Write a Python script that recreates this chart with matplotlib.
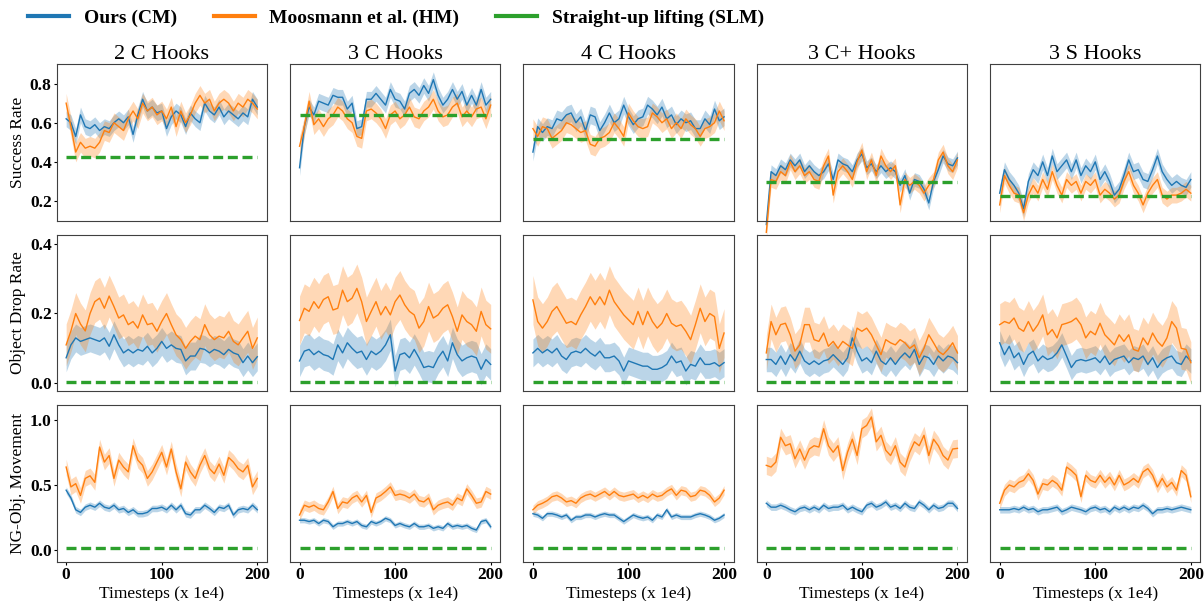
import numpy as np
import matplotlib
matplotlib.use("Agg")
import matplotlib.pyplot as plt
from matplotlib.lines import Line2D

plt.rcParams['font.family'] = ['Liberation Serif', 'DejaVu Serif']

tasks = ["2 C Hooks", "3 C Hooks", "4 C Hooks", "3 C+ Hooks", "3 S Hooks"]
metrics = ["Success Rate", "Object Drop Rate", "NG-Obj. Movement"]
labels = ["Ours (CM)", "Moosmann et al. (HM)", "Straight-up lifting (SLM)"]

# --- success rate (values every 5 timesteps, 0..200) ---
cm_sr_2c = [0.62, 0.60, 0.53, 0.64, 0.58, 0.57, 0.59, 0.56, 0.58, 0.57, 0.60, 0.62, 0.60, 0.63, 0.54, 0.64, 0.72, 0.66, 0.68, 0.65, 0.66,
            0.57, 0.63, 0.66, 0.64, 0.58, 0.65, 0.62, 0.60, 0.70, 0.66, 0.64, 0.68, 0.63, 0.66, 0.64, 0.62, 0.65, 0.63, 0.72, 0.68]
hm_sr_2c = [0.70, 0.58, 0.45, 0.50, 0.47, 0.48, 0.47, 0.50, 0.56, 0.55, 0.60, 0.58, 0.56, 0.62, 0.66, 0.62, 0.70, 0.66, 0.68, 0.64, 0.66,
            0.62, 0.68, 0.58, 0.66, 0.60, 0.64, 0.70, 0.74, 0.70, 0.72, 0.66, 0.70, 0.72, 0.70, 0.66, 0.70, 0.68, 0.72, 0.70, 0.67]
cm_sr_3c = [0.37, 0.58, 0.68, 0.64, 0.71, 0.70, 0.69, 0.74, 0.73, 0.73, 0.67, 0.70, 0.57, 0.58, 0.72, 0.72, 0.75, 0.72, 0.69, 0.77, 0.72,
            0.71, 0.67, 0.75, 0.77, 0.74, 0.79, 0.75, 0.82, 0.74, 0.69, 0.72, 0.77, 0.72, 0.76, 0.69, 0.74, 0.69, 0.77, 0.69, 0.72]
hm_sr_3c = [0.48, 0.58, 0.71, 0.59, 0.62, 0.58, 0.62, 0.64, 0.68, 0.66, 0.62, 0.60, 0.53, 0.52, 0.66, 0.67, 0.65, 0.62, 0.57, 0.64, 0.66,
            0.62, 0.64, 0.68, 0.63, 0.62, 0.66, 0.68, 0.72, 0.66, 0.63, 0.64, 0.68, 0.70, 0.63, 0.66, 0.63, 0.67, 0.68, 0.62, 0.69]
cm_sr_4c = [0.45, 0.58, 0.55, 0.58, 0.57, 0.62, 0.61, 0.64, 0.65, 0.60, 0.63, 0.56, 0.64, 0.63, 0.56, 0.60, 0.65, 0.60, 0.62, 0.69, 0.63,
            0.59, 0.62, 0.63, 0.69, 0.67, 0.64, 0.68, 0.62, 0.64, 0.59, 0.62, 0.60, 0.61, 0.57, 0.57, 0.62, 0.59, 0.67, 0.61, 0.63]
hm_sr_4c = [0.57, 0.53, 0.58, 0.57, 0.52, 0.54, 0.56, 0.60, 0.59, 0.57, 0.55, 0.56, 0.49, 0.48, 0.52, 0.53, 0.55, 0.60, 0.57, 0.53, 0.65,
            0.61, 0.58, 0.57, 0.58, 0.65, 0.63, 0.60, 0.62, 0.57, 0.60, 0.57, 0.62, 0.59, 0.57, 0.53, 0.57, 0.58, 0.60, 0.66, 0.61]
cm_sr_3cp = [0.08, 0.35, 0.33, 0.38, 0.36, 0.41, 0.38, 0.41, 0.35, 0.38, 0.35, 0.33, 0.35, 0.39, 0.31, 0.41, 0.39, 0.38, 0.35, 0.41, 0.44,
             0.37, 0.39, 0.35, 0.38, 0.35, 0.37, 0.35, 0.28, 0.33, 0.24, 0.31, 0.30, 0.26, 0.19, 0.30, 0.36, 0.43, 0.39, 0.38, 0.42]
hm_sr_3cp = [0.04, 0.31, 0.30, 0.35, 0.33, 0.40, 0.35, 0.38, 0.33, 0.35, 0.31, 0.30, 0.38, 0.43, 0.23, 0.35, 0.38, 0.35, 0.31, 0.40, 0.46,
             0.35, 0.41, 0.33, 0.43, 0.38, 0.35, 0.38, 0.18, 0.31, 0.28, 0.30, 0.28, 0.24, 0.28, 0.31, 0.41, 0.45, 0.38, 0.35, 0.41]
cm_sr_3s = [0.24, 0.36, 0.31, 0.28, 0.24, 0.16, 0.30, 0.36, 0.33, 0.40, 0.33, 0.43, 0.35, 0.38, 0.41, 0.35, 0.41, 0.33, 0.38, 0.35, 0.40,
            0.31, 0.35, 0.30, 0.23, 0.26, 0.33, 0.41, 0.35, 0.36, 0.31, 0.30, 0.36, 0.43, 0.35, 0.31, 0.28, 0.30, 0.28, 0.27, 0.31]
hm_sr_3s = [0.18, 0.33, 0.28, 0.24, 0.23, 0.14, 0.23, 0.28, 0.24, 0.31, 0.26, 0.35, 0.28, 0.23, 0.31, 0.28, 0.30, 0.24, 0.30, 0.28, 0.31,
            0.23, 0.26, 0.24, 0.21, 0.23, 0.30, 0.35, 0.28, 0.24, 0.18, 0.24, 0.28, 0.31, 0.23, 0.21, 0.23, 0.23, 0.24, 0.26, 0.24]

# --- object drop rate ---
cm_dr_2c = [0.073, 0.11, 0.13, 0.12, 0.125, 0.13, 0.125, 0.12, 0.13, 0.106, 0.139, 0.11, 0.087, 0.097, 0.087, 0.097, 0.092, 0.106, 0.087, 0.10, 0.12,
            0.10, 0.11, 0.10, 0.097, 0.064, 0.078, 0.078, 0.10, 0.097, 0.087, 0.097, 0.092, 0.082, 0.097, 0.087, 0.082, 0.059, 0.078, 0.059, 0.076]
hm_dr_2c = [0.11, 0.15, 0.20, 0.17, 0.15, 0.20, 0.234, 0.244, 0.215, 0.25, 0.22, 0.187, 0.196, 0.168, 0.177, 0.158, 0.196, 0.168, 0.172, 0.149, 0.177,
            0.20, 0.168, 0.139, 0.125, 0.10, 0.12, 0.135, 0.125, 0.168, 0.139, 0.125, 0.135, 0.13, 0.149, 0.12, 0.11, 0.13, 0.149, 0.10, 0.13]
cm_dr_3c = [0.064, 0.092, 0.097, 0.082, 0.092, 0.082, 0.078, 0.068, 0.11, 0.087, 0.116, 0.10, 0.087, 0.092, 0.068, 0.092, 0.082, 0.092, 0.11, 0.139, 0.035,
            0.082, 0.087, 0.073, 0.097, 0.073, 0.045, 0.049, 0.045, 0.073, 0.092, 0.064, 0.116, 0.082, 0.064, 0.073, 0.078, 0.073, 0.04, 0.068, 0.054]
hm_dr_3c = [0.18, 0.215, 0.206, 0.234, 0.215, 0.24, 0.248, 0.21, 0.215, 0.267, 0.234, 0.244, 0.272, 0.234, 0.177, 0.206, 0.234, 0.196, 0.22, 0.196, 0.234,
            0.253, 0.225, 0.206, 0.196, 0.158, 0.177, 0.22, 0.187, 0.196, 0.215, 0.225, 0.191, 0.149, 0.196, 0.177, 0.168, 0.149, 0.206, 0.168, 0.156]
cm_dr_4c = [0.087, 0.10, 0.087, 0.097, 0.087, 0.10, 0.078, 0.068, 0.087, 0.092, 0.087, 0.10, 0.087, 0.078, 0.092, 0.073, 0.073, 0.078, 0.064, 0.035, 0.064,
            0.059, 0.054, 0.049, 0.049, 0.04, 0.04, 0.045, 0.054, 0.078, 0.059, 0.064, 0.035, 0.054, 0.049, 0.073, 0.054, 0.054, 0.059, 0.049, 0.059]
hm_dr_4c = [0.239, 0.177, 0.158, 0.177, 0.206, 0.22, 0.196, 0.172, 0.177, 0.168, 0.196, 0.22, 0.248, 0.225, 0.248, 0.225, 0.267, 0.234, 0.215, 0.196, 0.182,
            0.168, 0.206, 0.168, 0.206, 0.177, 0.158, 0.172, 0.20, 0.172, 0.163, 0.168, 0.149, 0.125, 0.168, 0.215, 0.177, 0.20, 0.191, 0.10, 0.144]
cm_dr_3cp = [0.068, 0.068, 0.054, 0.078, 0.054, 0.082, 0.064, 0.092, 0.064, 0.054, 0.064, 0.054, 0.064, 0.068, 0.082, 0.068, 0.054, 0.073, 0.13, 0.092, 0.064,
             0.073, 0.059, 0.092, 0.064, 0.054, 0.073, 0.054, 0.073, 0.087, 0.073, 0.097, 0.054, 0.078, 0.073, 0.054, 0.078, 0.064, 0.078, 0.073, 0.059]
hm_dr_3cp = [0.087, 0.177, 0.139, 0.168, 0.172, 0.139, 0.092, 0.11, 0.168, 0.168, 0.125, 0.12, 0.144, 0.106, 0.12, 0.10, 0.12, 0.11, 0.10, 0.158, 0.149,
             0.158, 0.139, 0.11, 0.082, 0.125, 0.116, 0.11, 0.125, 0.116, 0.10, 0.11, 0.073, 0.10, 0.139, 0.116, 0.092, 0.082, 0.097, 0.116, 0.087]
cm_dr_3s = [0.116, 0.082, 0.106, 0.073, 0.087, 0.054, 0.082, 0.092, 0.064, 0.078, 0.068, 0.073, 0.087, 0.11, 0.078, 0.045, 0.064, 0.068, 0.064, 0.068, 0.073,
            0.059, 0.078, 0.054, 0.068, 0.073, 0.078, 0.059, 0.073, 0.068, 0.078, 0.054, 0.073, 0.045, 0.064, 0.073, 0.078, 0.059, 0.054, 0.078, 0.064]
hm_dr_3s = [0.168, 0.177, 0.172, 0.187, 0.158, 0.149, 0.177, 0.149, 0.168, 0.196, 0.139, 0.154, 0.13, 0.168, 0.172, 0.177, 0.187, 0.168, 0.13, 0.149, 0.139,
            0.172, 0.139, 0.125, 0.11, 0.139, 0.12, 0.139, 0.097, 0.092, 0.13, 0.11, 0.144, 0.12, 0.106, 0.13, 0.177, 0.158, 0.10, 0.097, 0.059]

# --- non-grasped object movement ---
cm_mv_2c = [0.46, 0.40, 0.31, 0.29, 0.33, 0.345, 0.33, 0.36, 0.33, 0.32, 0.345, 0.31, 0.32, 0.29, 0.31, 0.28, 0.28, 0.29, 0.32, 0.32, 0.33,
            0.31, 0.345, 0.31, 0.345, 0.28, 0.27, 0.31, 0.31, 0.345, 0.32, 0.29, 0.33, 0.32, 0.345, 0.27, 0.31, 0.32, 0.31, 0.345, 0.31]
hm_mv_2c = [0.637, 0.485, 0.51, 0.42, 0.55, 0.57, 0.52, 0.79, 0.675, 0.725, 0.55, 0.69, 0.637, 0.60, 0.80, 0.69, 0.65, 0.55, 0.60, 0.675, 0.75,
            0.637, 0.775, 0.60, 0.47, 0.675, 0.60, 0.55, 0.65, 0.725, 0.625, 0.586, 0.66, 0.574, 0.71, 0.675, 0.625, 0.60, 0.65, 0.485, 0.55]
cm_mv_3c = [0.23, 0.23, 0.22, 0.23, 0.205, 0.23, 0.22, 0.18, 0.205, 0.205, 0.22, 0.205, 0.22, 0.19, 0.18, 0.22, 0.205, 0.22, 0.245, 0.23, 0.19,
            0.205, 0.19, 0.18, 0.205, 0.18, 0.18, 0.19, 0.168, 0.18, 0.168, 0.205, 0.18, 0.19, 0.18, 0.19, 0.168, 0.155, 0.22, 0.23, 0.18]
hm_mv_3c = [0.27, 0.345, 0.33, 0.345, 0.32, 0.31, 0.37, 0.45, 0.32, 0.37, 0.36, 0.40, 0.42, 0.37, 0.42, 0.29, 0.40, 0.42, 0.45, 0.485, 0.42,
            0.43, 0.42, 0.40, 0.43, 0.38, 0.37, 0.40, 0.31, 0.345, 0.36, 0.37, 0.345, 0.40, 0.38, 0.47, 0.42, 0.36, 0.37, 0.45, 0.43]
cm_mv_4c = [0.28, 0.27, 0.245, 0.28, 0.28, 0.27, 0.255, 0.27, 0.23, 0.255, 0.255, 0.27, 0.27, 0.255, 0.27, 0.28, 0.27, 0.27, 0.245, 0.22, 0.245,
            0.27, 0.255, 0.245, 0.255, 0.23, 0.27, 0.255, 0.31, 0.255, 0.27, 0.255, 0.255, 0.255, 0.27, 0.28, 0.27, 0.255, 0.23, 0.245, 0.27]
hm_mv_4c = [0.31, 0.345, 0.36, 0.38, 0.41, 0.42, 0.40, 0.37, 0.38, 0.36, 0.40, 0.42, 0.43, 0.41, 0.43, 0.45, 0.42, 0.45, 0.42, 0.41, 0.42,
            0.43, 0.40, 0.42, 0.40, 0.43, 0.41, 0.42, 0.45, 0.47, 0.42, 0.46, 0.45, 0.41, 0.42, 0.46, 0.45, 0.42, 0.37, 0.40, 0.46]
cm_mv_3cp = [0.36, 0.33, 0.33, 0.345, 0.33, 0.31, 0.295, 0.32, 0.33, 0.31, 0.33, 0.31, 0.345, 0.32, 0.33, 0.33, 0.345, 0.31, 0.33, 0.31, 0.295,
             0.345, 0.36, 0.33, 0.345, 0.37, 0.33, 0.345, 0.32, 0.36, 0.33, 0.32, 0.37, 0.345, 0.31, 0.345, 0.32, 0.33, 0.36, 0.36, 0.32]
hm_mv_3cp = [0.65, 0.637, 0.675, 0.865, 0.80, 0.815, 0.70, 0.775, 0.69, 0.775, 0.80, 0.79, 0.93, 0.80, 0.75, 0.80, 0.61, 0.75, 0.85, 0.725, 0.93,
             0.955, 1.02, 0.83, 0.88, 0.765, 0.725, 0.80, 0.675, 0.637, 0.75, 0.83, 0.80, 0.88, 0.725, 0.85, 0.80, 0.725, 0.69, 0.775, 0.78]
cm_mv_3s = [0.31, 0.31, 0.31, 0.32, 0.31, 0.33, 0.31, 0.32, 0.295, 0.31, 0.31, 0.32, 0.33, 0.295, 0.31, 0.33, 0.32, 0.31, 0.295, 0.32, 0.33,
            0.31, 0.32, 0.295, 0.33, 0.31, 0.33, 0.31, 0.33, 0.32, 0.345, 0.32, 0.28, 0.31, 0.31, 0.32, 0.31, 0.32, 0.33, 0.32, 0.31]
hm_mv_3s = [0.36, 0.46, 0.50, 0.485, 0.52, 0.535, 0.586, 0.535, 0.43, 0.51, 0.50, 0.535, 0.51, 0.46, 0.637, 0.61, 0.574, 0.41, 0.574, 0.535, 0.52,
            0.574, 0.52, 0.56, 0.50, 0.574, 0.50, 0.52, 0.55, 0.52, 0.60, 0.625, 0.574, 0.485, 0.55, 0.485, 0.52, 0.46, 0.61, 0.574, 0.41]

# straight-up lifting baseline (constant per task)
slm_sr = [0.425, 0.64, 0.515, 0.295, 0.227]
slm_dr = [0.003, 0.003, 0.003, 0.003, 0.003]
slm_mv = [0.02, 0.015, 0.015, 0.02, 0.015]

# half-width of the shaded band
cm_band_sr = [0.04, 0.04, 0.045, 0.035, 0.04]
hm_band_sr = [0.05, 0.05, 0.05, 0.04, 0.04]
cm_band_dr = [0.04, 0.045, 0.04, 0.035, 0.035]
hm_band_dr = [0.06, 0.07, 0.07, 0.05, 0.06]
cm_band_mv = [0.025, 0.02, 0.02, 0.025, 0.025]
hm_band_mv = [0.06, 0.04, 0.035, 0.07, 0.045]

cm_rows = [[cm_sr_2c, cm_sr_3c, cm_sr_4c, cm_sr_3cp, cm_sr_3s],
           [cm_dr_2c, cm_dr_3c, cm_dr_4c, cm_dr_3cp, cm_dr_3s],
           [cm_mv_2c, cm_mv_3c, cm_mv_4c, cm_mv_3cp, cm_mv_3s]]
hm_rows = [[hm_sr_2c, hm_sr_3c, hm_sr_4c, hm_sr_3cp, hm_sr_3s],
           [hm_dr_2c, hm_dr_3c, hm_dr_4c, hm_dr_3cp, hm_dr_3s],
           [hm_mv_2c, hm_mv_3c, hm_mv_4c, hm_mv_3cp, hm_mv_3s]]
slm_rows = [slm_sr, slm_dr, slm_mv]
cm_bands = [cm_band_sr, cm_band_dr, cm_band_mv]
hm_bands = [hm_band_sr, hm_band_dr, hm_band_mv]

ylims = [(0.1, 0.9), (-0.023, 0.426), (-0.089, 1.109)]
yticks = [[0.2, 0.4, 0.6, 0.8], [0.0, 0.2, 0.4], [0.0, 0.5, 1.0]]

c_cm, c_hm, c_slm = '#1f77b4', '#ff7f0e', '#2ca02c'

fig, axes = plt.subplots(3, 5, figsize=(12.04, 6.01), dpi=100)
fig.subplots_adjust(left=0.047, right=0.997, top=0.8935, bottom=0.065,
                    wspace=0.11, hspace=0.09)

for r in range(3):
    for c in range(5):
        ax = axes[r, c]
        for vals, band, col in [(cm_rows[r][c], cm_bands[r][c], c_cm),
                                (hm_rows[r][c], hm_bands[r][c], c_hm)]:
            m = np.array(vals)
            t = np.linspace(0, 200, len(m))
            ax.fill_between(t, m - band, m + band, color=col, alpha=0.3,
                            lw=0, clip_on=False)
            ax.plot(t, m, color=col, lw=1.0, clip_on=False)
        ax.plot([0, 200], [slm_rows[r][c]] * 2, color=c_slm, lw=2.4,
                linestyle=(0, (3, 1.4)))
        ax.set_xlim(-10, 210)
        ax.set_ylim(*ylims[r])
        ax.set_yticks(yticks[r])
        ax.set_xticks([0, 100, 200])
        for s in ax.spines.values():
            s.set_color('0.25')
        ax.tick_params(labelsize=12.5, length=2.5, pad=1)
        for lab in ax.get_xticklabels() + ax.get_yticklabels():
            lab.set_fontweight('bold')
        if c == 0:
            ax.set_ylabel(metrics[r], fontsize=12.5, labelpad=3)
        else:
            ax.tick_params(left=False, labelleft=False)
        if r == 2:
            ax.set_xlabel("Timesteps (x 1e4)", fontsize=12.5, labelpad=2)
        else:
            ax.tick_params(bottom=False, labelbottom=False)
        if r == 0:
            ax.set_title(tasks[c], fontsize=16, pad=3)

handles = [Line2D([], [], color=c_cm, lw=3),
           Line2D([], [], color=c_hm, lw=3),
           Line2D([], [], color=c_slm, lw=3)]
fig.legend(handles, labels, loc='center left', bbox_to_anchor=(0.017, 0.97),
           ncol=3, frameon=False, prop={'weight': 'bold', 'size': 14},
           handlelength=2.1, handletextpad=0.75, columnspacing=1.9,
           borderaxespad=0)

fig.savefig("out.png", dpi=100)
